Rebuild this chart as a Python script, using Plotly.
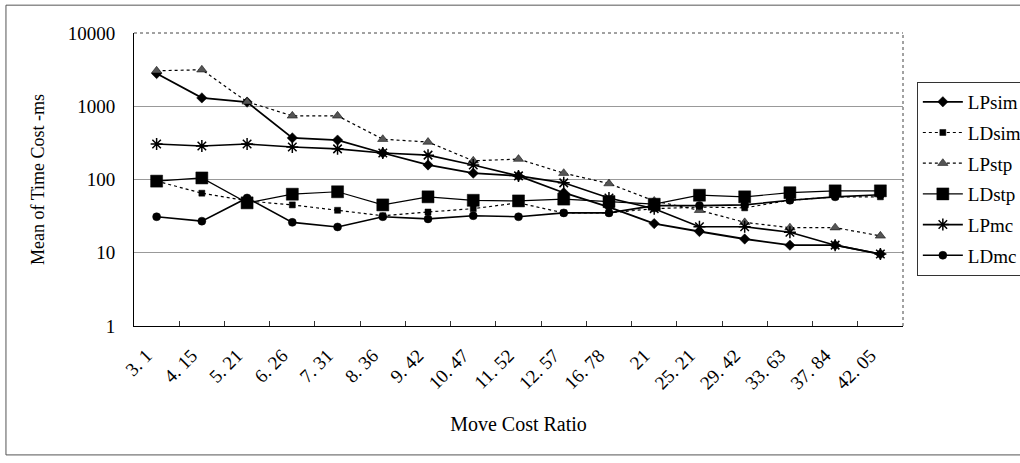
import plotly.graph_objects as go

categories = ["3. 1", "4. 15", "5. 21", "6. 26", "7. 31", "8. 36", "9. 42", "10. 47",
              "11. 52", "12. 57", "16. 78", "21", "25. 21", "29. 42", "33. 63", "37. 84", "42. 05"]

LPsim = [2800, 1300, 1140, 370, 345, 230, 158, 122, 112, 66, 42, 25, 19.5, 15.4, 12.7, 12.7, 9.6]
LDsim = [95, 65, 51, 45, 38, 32, 36, 40, 48, 35, 35, 40, 42, 41, 52, 58, 58]
LPstp = [3050, 3150, 1150, 740, 740, 355, 325, 180, 190, 122, 88, 51, 38, 26, 22, 22, 17]
LDstp = [95, 105, 48, 63, 68, 45, 58, 52, 51, 54, 50, 46, 61, 58, 66, 70, 70]
LPmc = [305, 287, 305, 278, 262, 230, 215, 158, 112, 90, 56, 40, 22.6, 22.6, 19, 12.7, 9.6]
LDmc = [31, 27, 56, 26, 22.5, 31, 29, 32, 31, 35, 35, 44, 44, 45, 52, 58, 62]

series = [
    ("LPsim", LPsim, "diamond", 8, "solid", 1.8, "black"),
    ("LDsim", LDsim, "square", 6, "dot", 1.2, "black"),
    ("LPstp", LPstp, "triangle-up", 9, "dot", 1.2, "#555"),
    ("LDstp", LDstp, "square", 12, "solid", 1.2, "black"),
    ("LPmc", LPmc, "asterisk-open", 10, "solid", 1.6, "black"),
    ("LDmc", LDmc, "circle", 8, "solid", 1.6, "black"),
]

FONT = "Liberation Serif"

fig = go.Figure()
for name, vals, sym, size, dash, width, mcol in series:
    fig.add_trace(go.Scatter(
        x=categories, y=vals, name=name, mode="lines+markers", legendgroup=name,
        line=dict(color="black", width=width, dash=dash),
        marker=dict(symbol=sym, size=size, color=mcol,
                    line=dict(color="black", width=1.5 if sym == "asterisk-open" else 0.5)),
    ))

fig.update_layout(
    width=1020, height=463,
    margin=dict(l=134, r=117, t=33, b=137, autoexpand=False),
    paper_bgcolor="white", plot_bgcolor="white",
    font=dict(family=FONT, size=19, color="black"),
    showlegend=True,
    legend=dict(x=1.018, y=0.833, xanchor="left", yanchor="top",
                bordercolor="#333", borderwidth=1, bgcolor="white",
                font=dict(family=FONT, size=19), tracegroupgap=3, itemwidth=40),
    xaxis=dict(
        type="category", showgrid=False, showline=True, linecolor="black", linewidth=1,
        ticks="inside", tickson="boundaries", ticklen=5, tickcolor="#333",
        tickangle=-45, tickfont=dict(family=FONT, size=19),
        ticklabelstandoff=10, ticklabelshift=-10,
        title=dict(text="Move Cost Ratio", font=dict(family=FONT, size=20), standoff=24),
        range=[-0.5, 16.5],
    ),
    yaxis=dict(
        type="log", range=[0, 4], tickvals=[1, 10, 100, 1000, 10000],
        ticktext=["1", "10", "100", "1000", "10000"],
        showgrid=True, gridcolor="#999", gridwidth=1,
        showline=True, linecolor="black", linewidth=1, ticks="",
        ticklabelstandoff=14, tickfont=dict(family=FONT, size=19),
        title=dict(text="Mean of Time Cost -ms", font=dict(family=FONT, size=18), standoff=18),
        zeroline=False,
    ),
    shapes=[
        dict(type="line", xref="paper", yref="paper", x0=0, x1=1, y0=1, y1=1,
             line=dict(color="#444", width=1, dash="dot")),
        dict(type="line", xref="paper", yref="paper", x0=1, x1=1, y0=0, y1=1,
             line=dict(color="#444", width=1, dash="dot")),
        dict(type="rect", xref="paper", yref="paper", x0=-0.1665, x1=1.17, y0=-0.44, y1=1.095,
             line=dict(color="#555", width=1), layer="below"),
    ],
)

fig.write_html("out.html")
